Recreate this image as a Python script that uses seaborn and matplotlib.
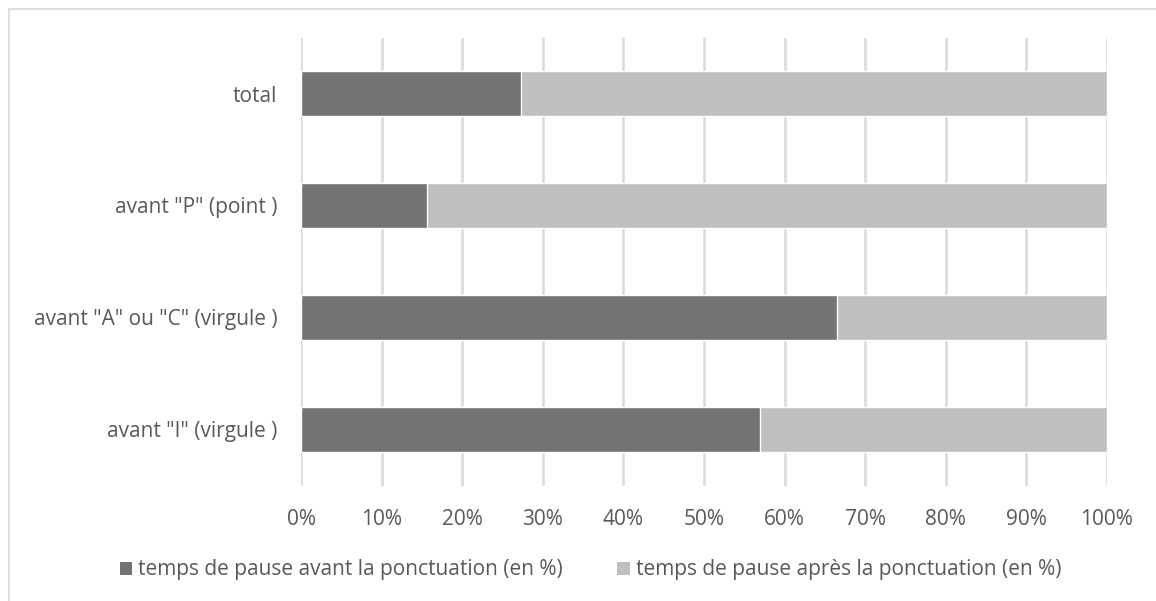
import matplotlib
matplotlib.use("Agg")
import matplotlib.pyplot as plt
import seaborn as sns
import pandas as pd
from matplotlib.patches import Patch

categories = ['total', 'avant "P" (point )', 'avant "A" ou "C" (virgule )', 'avant "I" (virgule )']
avant = [27.3, 15.6, 66.5, 56.9]
apres = [72.7, 84.4, 33.5, 43.1]
series_names = ['temps de pause avant la ponctuation (en %)', 'temps de pause après la ponctuation (en %)']
xticks = [0, 10, 20, 30, 40, 50, 60, 70, 80, 90, 100]
xticklabels = [f"{t}%" for t in xticks]

sns.set_theme(style="white")
plt.rcParams['font.family'] = ['Open Sans', 'DejaVu Sans']

dark = '#737373'
light = '#bfbfbf'
textc = '#595959'
gridc = '#d9d9d9'

W, H = 1156, 601
fig = plt.figure(figsize=(W/100, H/100), dpi=100)
ax = fig.add_axes([301/W, 1 - 485.5/H, (1107-301)/W, (485.5-37.5)/H])

df = pd.DataFrame({'cat': categories, 'avant': avant,
                   'cum': [a + b for a, b in zip(avant, apres)]})

sns.barplot(data=df, y='cat', x='cum', color=light, saturation=1, width=0.4, ax=ax, orient='h')
sns.barplot(data=df, y='cat', x='avant', color=dark, saturation=1, width=0.4, ax=ax, orient='h')

ax.set_xlim(0, 100)
ax.set_ylim(3.5, -0.5)
ax.set_xticks(xticks)
ax.set_xticklabels(xticklabels)
ax.set_xlabel('')
ax.set_ylabel('')
for s in ax.spines.values():
    s.set_visible(False)
ax.xaxis.grid(True, color=gridc, linewidth=1.8)
ax.set_axisbelow(True)
ax.tick_params(axis='both', length=0, colors=textc, labelsize=15)
ax.tick_params(axis='x', pad=17)
ax.tick_params(axis='y', pad=17)

handles = [Patch(facecolor=dark, edgecolor='none'), Patch(facecolor=light, edgecolor='none')]
leg = fig.legend(handles, series_names, loc='center', bbox_to_anchor=(590.5/W, 1 - 570/H),
                 ncol=2, frameon=False, fontsize=15, handlelength=0.6, handleheight=0.6,
                 handletextpad=0.3, columnspacing=2.6)
for t in leg.get_texts():
    t.set_color(textc)

# outer chart border (top and left visible)
fig.add_artist(plt.Line2D([8.5/W, 1.0], [1 - 8.5/H, 1 - 8.5/H], color=gridc, linewidth=1.2, transform=fig.transFigure))
fig.add_artist(plt.Line2D([8.5/W, 8.5/W], [0, 1 - 8.5/H], color=gridc, linewidth=1.2, transform=fig.transFigure))

fig.savefig('out.png', dpi=100, facecolor='white')
